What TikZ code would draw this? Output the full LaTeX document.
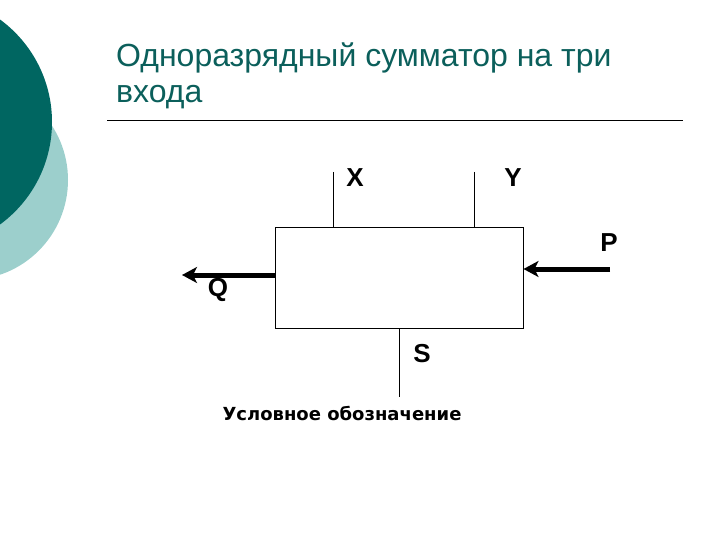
\documentclass[tikz,border=0pt]{standalone}
\usepackage{fontspec}
\setmainfont{Liberation Sans}
\newfontfamily\capfont{DejaVu Sans}
\usepackage{xcolor}
\usetikzlibrary{arrows.meta,positioning}
\definecolor{darkteal}{HTML}{006661}
\definecolor{lightteal}{HTML}{9CCFCC}
\definecolor{titleteal}{HTML}{0B5F5B}

\begin{document}
\begin{tikzpicture}[x=1pt,y=-1pt,
    wire/.style={draw,line width=1pt},
    bus/.style={draw,line width=5pt,-{Stealth[length=15pt,width=16pt,inset=4pt]}},
    pin/.style={font=\fontsize{26}{26}\selectfont\bfseries},
    adder/.style={draw,line width=1pt,minimum width=248pt,minimum height=100pt,inner sep=0pt}]
    \useasboundingbox (0,0) rectangle (720,540);

              % Decorative circles
              \fill[lightteal] (-32,180) circle (100pt);
              \fill[darkteal] (-75,122) circle (127pt);

              % Title and rule
              \node[anchor=base west,inner sep=0pt,text=titleteal,align=left,font=\fontsize{32}{36}\selectfont] (title) at (116,103) {Одноразрядный сумматор на три\\входа};
              \coordinate (ruleL) at (107,121);
              \coordinate (ruleR) at (683,121);
              \draw[line width=1pt] (ruleL) -- (ruleR);

              % Adder block
              \node[adder] (sum) at (399,278) {};

              % Free ends of the wires
              \coordinate (xin) at (333,172);
              \coordinate (yin) at (474,172);
              \coordinate (pin) at (610,269);
              \coordinate (qout) at (182,275);
              \coordinate (sout) at (399,397);

              % Wires
              \path[wire] (xin) -- (xin |- sum.north);
              \path[wire] (yin) -- (yin |- sum.north);
              \path[wire] (sout |- sum.south) -- (sout);
              \path[bus] (pin) -- (pin -| sum.east);
              \path[bus] (qout -| sum.west) -- (qout);

              % Labels
              \node[pin] (xlab) at (355,178) {X};
              \node[pin] (ylab) at (513,178) {Y};
              \node[pin] (plab) at (609,243) {P};
              \node[pin] (qlab) at (218,290) {Q};
              \node[pin] (slab) at (422,354) {S};
              \node[font=\capfont\fontsize{18}{18}\selectfont\bfseries] (caption) at (342,413) {Условное обозначение};
            \end{tikzpicture}
\end{document}
